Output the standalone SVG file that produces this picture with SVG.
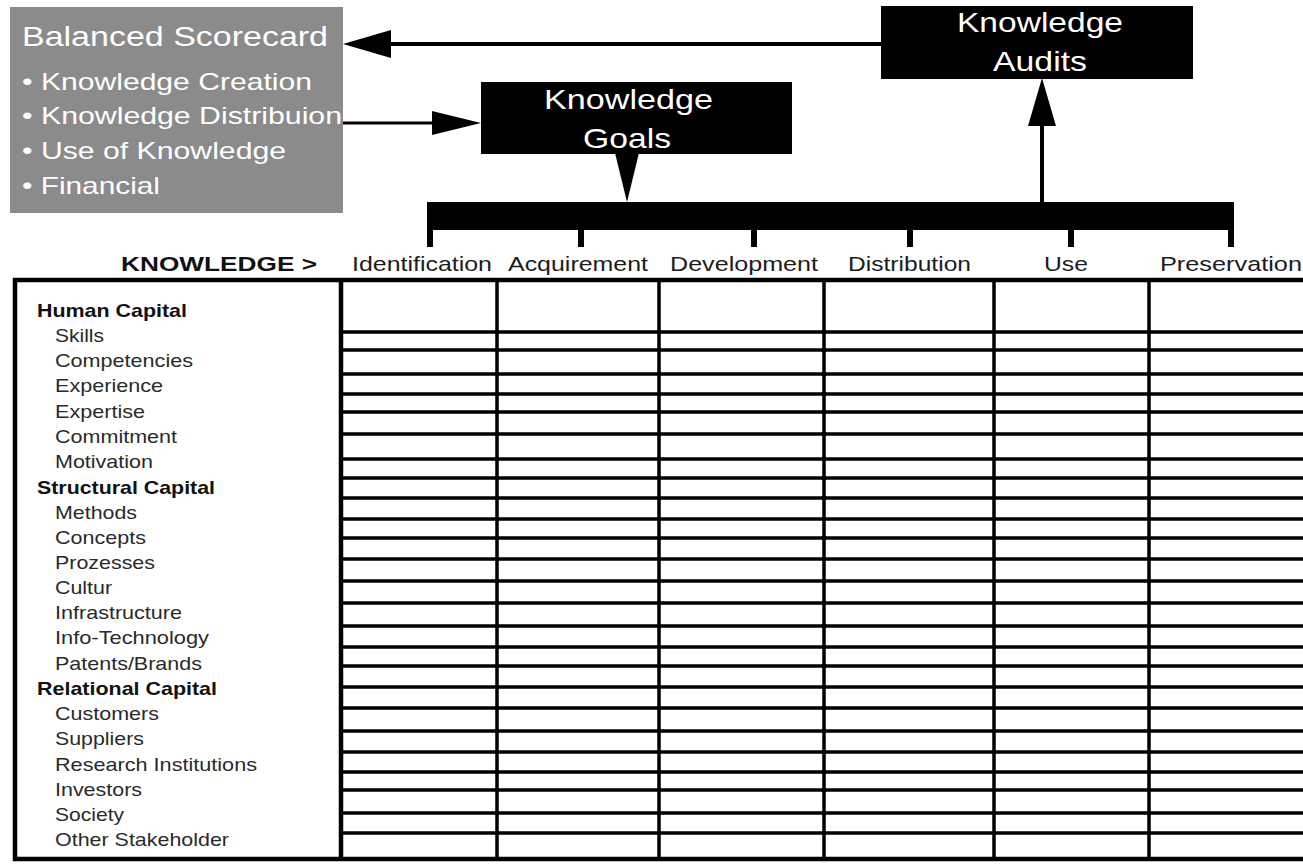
<svg xmlns="http://www.w3.org/2000/svg" width="1303" height="864" viewBox="0 0 1303 864">
  <style>
    .sans { font-family: "Liberation Sans", Arial, Helvetica, sans-serif; }
    .white { fill: #ffffff; }
    .boxtitle { font-size: 28px; }
    .bsc-title { font-size: 28px; }
    .bullet { font-size: 24px; }
    .head { font-size: 21px; fill: #1c1c1c; }
    .headb { font-size: 21px; font-weight: bold; fill: #111111; }
    .cat { font-size: 19px; font-weight: bold; fill: #111111; }
    .item { font-size: 19px; fill: #2a2a2a; }
    .grid { fill: none; stroke: #000000; stroke-width: 3.5; }
    .border { fill: none; stroke: #000000; stroke-width: 4.5; }
    .conn { fill: none; stroke: #000000; }
  </style>
  <defs>
    <marker id="arrowWide" markerUnits="userSpaceOnUse" markerWidth="48" markerHeight="28" refX="0" refY="14" orient="auto">
      <path d="M0,0 L48,14 L0,28 z" fill="#000000"/>
    </marker>
    <marker id="arrowSlim" markerUnits="userSpaceOnUse" markerWidth="49" markerHeight="24" refX="0" refY="12" orient="auto">
      <path d="M0,0 L49,12 L0,24 z" fill="#000000"/>
    </marker>
  </defs>

  <rect width="1303" height="864" fill="#ffffff"/>

  <!-- Balanced Scorecard panel -->
  <g id="balanced-scorecard">
    <rect x="10" y="7" width="333" height="206" fill="#8b8b8b"/>
    <text class="sans white bsc-title" x="22" y="46" textLength="306" lengthAdjust="spacingAndGlyphs">Balanced Scorecard</text>
    <text class="sans white bullet" x="22" y="90" textLength="290" lengthAdjust="spacingAndGlyphs">• Knowledge Creation</text>
    <text class="sans white bullet" x="22" y="124" textLength="320" lengthAdjust="spacingAndGlyphs">• Knowledge Distribuion</text>
    <text class="sans white bullet" x="22" y="159" textLength="264" lengthAdjust="spacingAndGlyphs">• Use of Knowledge</text>
    <text class="sans white bullet" x="22" y="194" textLength="138" lengthAdjust="spacingAndGlyphs">• Financial</text>
  </g>

  <!-- Knowledge Goals -->
  <g id="knowledge-goals">
    <rect x="481" y="82" width="311" height="72" fill="#000000"/>
    <text class="sans white boxtitle" x="544" y="109" textLength="169" lengthAdjust="spacingAndGlyphs">Knowledge</text>
    <text class="sans white boxtitle" x="583" y="148" textLength="88" lengthAdjust="spacingAndGlyphs">Goals</text>
  </g>

  <!-- Knowledge Audits -->
  <g id="knowledge-audits">
    <rect x="881" y="6" width="312" height="73" fill="#000000"/>
    <text class="sans white boxtitle" x="957" y="32" textLength="166" lengthAdjust="spacingAndGlyphs">Knowledge</text>
    <text class="sans white boxtitle" x="993" y="71" textLength="94" lengthAdjust="spacingAndGlyphs">Audits</text>
  </g>

  <!-- Knowledge process bar with its six stages -->
  <g id="process-bar">
    <rect x="427" y="202" width="807" height="28" fill="#000000"/>
    <g fill="#000000">
      <rect x="427" y="228" width="6" height="19"/>
      <rect x="578" y="228" width="6" height="19"/>
      <rect x="751" y="228" width="6" height="19"/>
      <rect x="907" y="228" width="6" height="19"/>
      <rect x="1068" y="228" width="6" height="19"/>
      <rect x="1228" y="228" width="6" height="19"/>
    </g>
  </g>

  <!-- Column headings -->
  <g id="stage-headings">
    <text class="sans headb" x="121" y="271" textLength="196" lengthAdjust="spacingAndGlyphs">KNOWLEDGE &gt;</text>
    <text class="sans head" x="352" y="271" textLength="140" lengthAdjust="spacingAndGlyphs">Identification</text>
    <text class="sans head" x="508" y="271" textLength="140" lengthAdjust="spacingAndGlyphs">Acquirement</text>
    <text class="sans head" x="670" y="271" textLength="148" lengthAdjust="spacingAndGlyphs">Development</text>
    <text class="sans head" x="848" y="271" textLength="123" lengthAdjust="spacingAndGlyphs">Distribution</text>
    <text class="sans head" x="1044" y="271" textLength="44" lengthAdjust="spacingAndGlyphs">Use</text>
    <text class="sans head" x="1160" y="271" textLength="142" lengthAdjust="spacingAndGlyphs">Preservation</text>
  </g>

  <!-- Intellectual capital matrix -->
  <g id="capital-matrix">
    <path class="grid" d="M341,332 H1303 M341,350 H1303 M341,374 H1303 M341,394 H1303 M341,412 H1303 M341,434 H1303 M341,459 H1303 M341,478 H1303 M341,498 H1303 M341,519 H1303 M341,538 H1303 M341,559 H1303 M341,581 H1303 M341,603 H1303 M341,626 H1303 M341,647 H1303 M341,666 H1303 M341,687 H1303 M341,708 H1303 M341,731 H1303 M341,752 H1303 M341,772 H1303 M341,790 H1303 M341,813 H1303 M341,833 H1303"/>
    <path class="grid" d="M497,280 V859 M659,280 V859 M824,280 V859 M994,280 V859 M1149,280 V859"/>
    <path class="border" d="M1303,280 H15 V859 H1303 M341,280 V859"/>

    <text class="sans cat" x="37" y="317" textLength="150" lengthAdjust="spacingAndGlyphs">Human Capital</text>
    <text class="sans item" x="55" y="342" textLength="49" lengthAdjust="spacingAndGlyphs">Skills</text>
    <text class="sans item" x="55" y="367" textLength="138" lengthAdjust="spacingAndGlyphs">Competencies</text>
    <text class="sans item" x="55" y="392" textLength="108" lengthAdjust="spacingAndGlyphs">Experience</text>
    <text class="sans item" x="55" y="418" textLength="90" lengthAdjust="spacingAndGlyphs">Expertise</text>
    <text class="sans item" x="55" y="443" textLength="122" lengthAdjust="spacingAndGlyphs">Commitment</text>
    <text class="sans item" x="55" y="468" textLength="98" lengthAdjust="spacingAndGlyphs">Motivation</text>
    <text class="sans cat" x="37" y="494" textLength="178" lengthAdjust="spacingAndGlyphs">Structural Capital</text>
    <text class="sans item" x="55" y="519" textLength="82" lengthAdjust="spacingAndGlyphs">Methods</text>
    <text class="sans item" x="55" y="544" textLength="91" lengthAdjust="spacingAndGlyphs">Concepts</text>
    <text class="sans item" x="55" y="569" textLength="100" lengthAdjust="spacingAndGlyphs">Prozesses</text>
    <text class="sans item" x="55" y="594" textLength="57" lengthAdjust="spacingAndGlyphs">Cultur</text>
    <text class="sans item" x="55" y="619" textLength="127" lengthAdjust="spacingAndGlyphs">Infrastructure</text>
    <text class="sans item" x="55" y="644" textLength="154" lengthAdjust="spacingAndGlyphs">Info-Technology</text>
    <text class="sans item" x="55" y="670" textLength="147" lengthAdjust="spacingAndGlyphs">Patents/Brands</text>
    <text class="sans cat" x="37" y="695" textLength="180" lengthAdjust="spacingAndGlyphs">Relational Capital</text>
    <text class="sans item" x="55" y="720" textLength="104" lengthAdjust="spacingAndGlyphs">Customers</text>
    <text class="sans item" x="55" y="745" textLength="89" lengthAdjust="spacingAndGlyphs">Suppliers</text>
    <text class="sans item" x="55" y="771" textLength="202" lengthAdjust="spacingAndGlyphs">Research Institutions</text>
    <text class="sans item" x="55" y="796" textLength="87" lengthAdjust="spacingAndGlyphs">Investors</text>
    <text class="sans item" x="55" y="821" textLength="69" lengthAdjust="spacingAndGlyphs">Society</text>
    <text class="sans item" x="55" y="846" textLength="174" lengthAdjust="spacingAndGlyphs">Other Stakeholder</text>
  </g>

  <!-- Connectors -->
  <g id="connectors">
    <!-- audits feed back into the scorecard -->
    <path class="conn" stroke-width="4" d="M881,44 H391" marker-end="url(#arrowWide)"/>
    <!-- scorecard sets the goals -->
    <path class="conn" stroke-width="3" d="M343,123 H432" marker-end="url(#arrowSlim)"/>
    <!-- goals drive the process -->
    <path class="conn" stroke-width="3" d="M627,148 V153" marker-end="url(#arrowSlim)"/>
    <!-- process is audited -->
    <path class="conn" stroke-width="4" d="M1042,202 V126" marker-end="url(#arrowWide)"/>
  </g>
</svg>
